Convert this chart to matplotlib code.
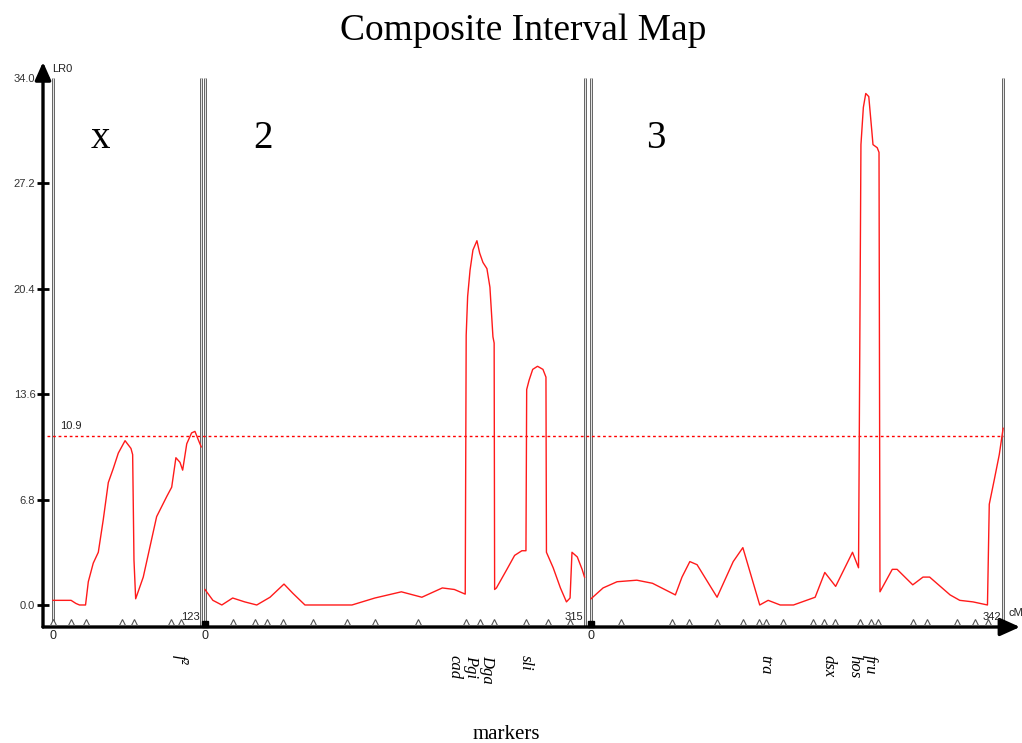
import matplotlib
matplotlib.use("Agg")
import matplotlib.pyplot as plt
import numpy as np

# ---------------- data ----------------
chrom_names = ["x", "2", "3"]
chrom_lengths = [123, 315, 342]

chrX_cm = [0, 15, 19, 22, 27, 29.3, 33.4, 37.6, 41.7, 45.9, 50, 54.2, 59.8, 64.7, 66.1,
           67.2, 68.6, 74.9, 86, 94.4, 98.5, 102, 105.4, 107.6, 111, 115, 117.8, 121.4, 123]
chrX_lr = [0.3, 0.3, 0.1, 0.0, 0.0, 1.5, 2.7, 3.4, 5.5, 7.9, 8.8, 9.8, 10.6, 10.1, 9.7,
           2.9, 0.4, 1.8, 5.7, 7.0, 7.6, 9.5, 9.2, 8.7, 10.4, 11.1, 11.2, 10.5, 10.2]

chr2_cm = [0, 6.6, 14, 23, 33, 43, 54, 65.6, 73, 83, 122, 141, 163, 180, 197,
           207, 216, 216.8, 218, 220, 222.4, 225.7, 228, 230.7, 234, 236.5, 239, 240, 240.4, 241.9,
           250.6, 257, 263, 266.4, 267, 269, 272, 276, 280.5, 283, 283.4, 289, 295, 300, 303,
           304.6, 309, 313, 315]
chr2_lr = [1.0, 0.3, 0.0, 0.45, 0.2, 0.0, 0.5, 1.35, 0.75, 0.0, 0.0, 0.45, 0.85, 0.5, 1.1,
           1.0, 0.7, 17.4, 19.9, 21.6, 22.9, 23.5, 22.7, 22.1, 21.7, 20.5, 17.3, 16.9, 1.0, 1.1,
           2.3, 3.2, 3.5, 3.5, 13.9, 14.5, 15.2, 15.4, 15.2, 14.7, 3.4, 2.4, 1.1, 0.2, 0.45,
           3.4, 3.1, 2.3, 1.8]

chr3_cm = [0, 10, 21.6, 38, 51, 70, 75.5, 82, 88, 104.6, 118, 126, 140, 147, 157,
           168, 186, 194, 203, 217, 222, 224, 226, 228, 230.5, 233, 234, 237.5, 239, 239.8,
           250, 254, 267, 275.5, 281, 298, 306, 317, 329, 330.5, 334.7, 338.8, 342]
chr3_lr = [0.4, 1.1, 1.5, 1.6, 1.4, 0.65, 1.8, 2.8, 2.6, 0.5, 2.8, 3.7, 0.0, 0.3, 0.0,
           0.0, 0.5, 2.1, 1.2, 3.4, 2.4, 29.7, 32.1, 33.0, 32.8, 30.6, 29.7, 29.5, 29.2, 0.85,
           2.3, 2.3, 1.3, 1.8, 1.8, 0.65, 0.3, 0.2, 0.0, 6.5, 8.1, 9.7, 11.4]

chrX_markers = [0, 14.9, 27.4, 57.3, 67.2, 97.9, 106.2]
chr2_markers = [23.2, 41.5, 51.5, 64.7, 89.6, 117.8, 141.1, 176.8, 216.6, 228.2, 239.8,
                266.4, 284.6, 302.9]
chr3_markers = [24.9, 67.2, 81.3, 104.6, 126.1, 139.4, 145.2, 159.3, 184.2, 193.4, 202.5,
                223.2, 232.4, 238.2, 267.2, 278.8, 303.7, 318.7, 329.5]

chrX_names = ["f²"]
chrX_name_cm = [105.4]
chr2_names = ["cad", "Pgi", "Dga", "sli"]
chr2_name_cm = [207.5, 221.0, 234.0, 266.4]
chr3_names = ["tra", "dsx", "hos", "fru"]
chr3_name_cm = [144.4, 196.7, 218.5, 231.5]

threshold = 10.9
yticks = [0.0, 6.8, 13.6, 20.4, 27.2, 34.0]

# ---------------- layout ----------------
offsets = [0.0, 126.1, 446.5]
curves = [(chrX_cm, chrX_lr), (chr2_cm, chr2_lr), (chr3_cm, chr3_lr)]
markers = [chrX_markers, chr2_markers, chr3_markers]
names = [(chrX_names, chrX_name_cm), (chr2_names, chr2_name_cm), (chr3_names, chr3_name_cm)]

W, H = 1022, 743
fig = plt.figure(figsize=(W / 100, H / 100), dpi=100)
fig.patch.set_facecolor("white")
ax = fig.add_axes([43 / W, (H - 627) / H, 977 / W, 565 / H])
ax.set_xlim(-8.3, 802.5)
ax.set_ylim(-1.42, 35.03)
for s in ax.spines.values():
    s.set_visible(False)
ax.set_xticks([])
ax.set_yticks(yticks)
ax.set_yticklabels([f"{v:.1f}" for v in yticks], family="Liberation Sans")
ax.tick_params(axis="y", direction="inout", length=9, width=2, color="black",
               labelsize=8, labelcolor="#333333", pad=1)

# axes arrows
ax.annotate("", xy=(0, 1), xytext=(0, 0), xycoords="axes fraction",
            arrowprops=dict(arrowstyle="-|>,head_length=0.9,head_width=0.4", lw=2.4,
                            color="black", shrinkA=0, shrinkB=0, mutation_scale=12))
ax.annotate("", xy=(1, 0), xytext=(0, 0), xycoords="axes fraction",
            arrowprops=dict(arrowstyle="-|>,head_length=1.0,head_width=0.45", lw=2.4,
                            color="black", shrinkA=0, shrinkB=0, mutation_scale=12))

serif = "Liberation Serif"

for i, (off, L) in enumerate(zip(offsets, chrom_lengths)):
    for xb in (off, off + L):
        ax.plot([xb, xb], [-1.42, 34.0], color="#555555", lw=2.0, zorder=2,
                solid_capstyle="butt")
        ax.plot([xb, xb], [-1.42, 34.0], color="white", lw=0.6, zorder=2.1,
                solid_capstyle="butt")
    cm, lr = curves[i]
    ax.plot(np.array(cm) + off, lr, color="#ff1a1a", lw=1.0, zorder=3)
    ax.plot(np.array(markers[i]) + off, [-1.1] * len(markers[i]), linestyle="none",
            marker="^", ms=5, mfc="white", mec="#555555", mew=0.8, zorder=4, clip_on=False)
    ax.text(off, -2.0, "0", ha="center", va="center", fontsize=9,
            family="Liberation Sans", color="#222222", clip_on=False)
    ax.text(off + L - 1.5, -0.75, str(L), ha="right", va="center", fontsize=8,
            family="Liberation Sans", color="#222222", zorder=5)
    if i > 0:
        ax.plot([off], [-1.2], marker="s", ms=4, color="black", zorder=5, clip_on=False)
    nm, ncm = names[i]
    for t, c in zip(nm, ncm):
        ax.text(c + off, -3.23, t, rotation=270, ha="center", va="top", fontsize=12,
                family=serif, style="italic", clip_on=False)

# chromosome names
chrom_label_cm = [39.0, 48.2, 54.0]
for nm, off, c in zip(chrom_names, offsets, chrom_label_cm):
    ax.text(off + c, 29.5, nm, ha="center", va="baseline", fontsize=28, family=serif)

# threshold
end_all = offsets[-1] + chrom_lengths[-1]
ax.plot([-5, end_all], [threshold, threshold], color="red", lw=1,
        linestyle=(0, (2, 2)), zorder=2.5)
ax.text(5.8, threshold + 0.35, f"{threshold}", ha="left", va="bottom", fontsize=8,
        family="Liberation Sans", color="#222222")

ax.text(-1.0, 34.6, "LR0", ha="left", va="center", fontsize=8,
        family="Liberation Sans", color="#222222", clip_on=False)
ax.text(793, -0.5, "cM", ha="left", va="center", fontsize=8,
        family="Liberation Sans", color="#222222", clip_on=False)

fig.text(523 / W, 1 - 40 / H, "Composite Interval Map", ha="center", va="baseline",
         fontsize=27, family=serif)
fig.text(506 / W, 1 - 739 / H, "markers", ha="center", va="baseline",
         fontsize=15, family=serif)

fig.savefig("out.png", dpi=100, facecolor="white")
